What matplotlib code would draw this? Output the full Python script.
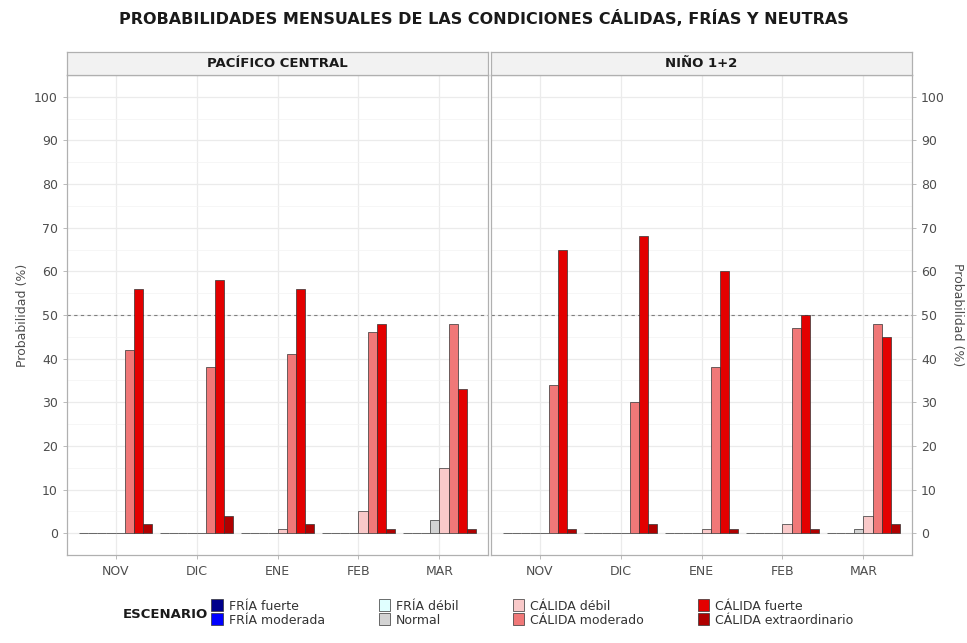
import matplotlib
matplotlib.use('Agg')
import matplotlib.pyplot as plt
import numpy as np
from matplotlib.patches import Patch
from matplotlib.ticker import MultipleLocator, FixedLocator

# ---------------- data ----------------
months = ['NOV', 'DIC', 'ENE', 'FEB', 'MAR']
regions = ['PACÍFICO CENTRAL', 'NIÑO 1+2']
scenarios = ['FRÍA fuerte', 'FRÍA moderada', 'FRÍA débil', 'Normal',
             'CÁLIDA débil', 'CÁLIDA moderado', 'CÁLIDA fuerte', 'CÁLIDA extraordinario']
scenario_colors = ['#00008B', '#0000FF', '#E0FFFF', '#D3D3D3',
                   '#F9C9C9', '#F07878', '#E30000', '#B00000']

# PACÍFICO CENTRAL
pc_fria_fuerte = [0, 0, 0, 0, 0]
pc_fria_moderada = [0, 0, 0, 0, 0]
pc_fria_debil = [0, 0, 0, 0, 0]
pc_normal = [0, 0, 0, 0, 3]
pc_calida_debil = [0, 0, 1, 5, 15]
pc_calida_moderado = [42, 38, 41, 46, 48]
pc_calida_fuerte = [56, 58, 56, 48, 33]
pc_calida_extra = [2, 4, 2, 1, 1]

# NIÑO 1+2
n12_fria_fuerte = [0, 0, 0, 0, 0]
n12_fria_moderada = [0, 0, 0, 0, 0]
n12_fria_debil = [0, 0, 0, 0, 0]
n12_normal = [0, 0, 0, 0, 1]
n12_calida_debil = [0, 0, 1, 2, 4]
n12_calida_moderado = [34, 30, 38, 47, 48]
n12_calida_fuerte = [65, 68, 60, 50, 45]
n12_calida_extra = [1, 2, 1, 1, 2]

panel_data = [
    [pc_fria_fuerte, pc_fria_moderada, pc_fria_debil, pc_normal,
     pc_calida_debil, pc_calida_moderado, pc_calida_fuerte, pc_calida_extra],
    [n12_fria_fuerte, n12_fria_moderada, n12_fria_debil, n12_normal,
     n12_calida_debil, n12_calida_moderado, n12_calida_fuerte, n12_calida_extra],
]

# ---------------- figure ----------------
W, H = 967, 643
fig = plt.figure(figsize=(W / 100, H / 100), dpi=100)


def rect(x0, y0, x1, y1):
    return [x0 / W, 1 - y1 / H, (x1 - x0) / W, (y1 - y0) / H]


panel_px = [(67, 488), (491, 912)]
top_px, bot_px, strip_top = 75, 555, 52
grey_txt = '#4D4D4D'
border = '#B0B0B0'

x = np.arange(1, len(months) + 1)
nb = len(scenarios)
bw = 0.9 / nb

for p, (x0, x1) in enumerate(panel_px):
    ax = fig.add_axes(rect(x0, top_px, x1, bot_px))
    ax.set_xlim(0.4, len(months) + 0.6)
    ax.set_ylim(-5, 105)
    ax.yaxis.set_major_locator(MultipleLocator(10))
    ax.yaxis.set_minor_locator(MultipleLocator(5))
    ax.xaxis.set_major_locator(FixedLocator(x))
    ax.set_xticklabels(months)
    ax.grid(which='major', color='#EBEBEB', lw=0.9, zorder=0)
    ax.grid(which='minor', axis='y', color='#F3F3F3', lw=0.5, zorder=0)
    ax.set_axisbelow(True)
    for s in ax.spines.values():
        s.set_color(border)
        s.set_linewidth(0.9)
    ax.tick_params(axis='both', which='major', colors=border, labelcolor=grey_txt,
                   labelsize=9, length=3, width=0.6)
    ax.tick_params(axis='y', which='minor', length=0)
    ax.tick_params(axis='x', pad=4)

    for i, (vals, col) in enumerate(zip(panel_data[p], scenario_colors)):
        ax.bar(x + (i - (nb - 1) / 2) * bw, vals, width=bw, color=col,
               edgecolor='#333333', linewidth=0.5, zorder=3)

    ax.axhline(50, color='#7F7F7F', lw=0.8, ls=(0, (3, 3)), zorder=2)

    if p == 0:
        ax.set_ylabel('Probabilidad (%)', fontsize=9, color=grey_txt, labelpad=4)
    else:
        ax.yaxis.tick_right()
        ax.yaxis.set_label_position('right')
        ax.set_ylabel('Probabilidad (%)', fontsize=9, color=grey_txt,
                      rotation=270, labelpad=14)
        ax.tick_params(axis='y', which='major', colors=border, labelcolor=grey_txt,
                       labelsize=9, length=3, width=0.6)

    # strip
    sax = fig.add_axes(rect(x0, strip_top, x1, top_px))
    sax.set_facecolor('#F2F2F2')
    sax.set_xticks([])
    sax.set_yticks([])
    for s in sax.spines.values():
        s.set_color(border)
        s.set_linewidth(0.9)
    sax.text(0.5, 0.5, regions[p], ha='center', va='center', fontsize=9.5,
             fontweight='bold', color='#1A1A1A', transform=sax.transAxes)

fig.text(0.5, 1 - 18 / H,
         'PROBABILIDADES MENSUALES DE LAS CONDICIONES CÁLIDAS, FRÍAS Y NEUTRAS',
         ha='center', va='center', fontsize=11.5, fontweight='bold', color='#1A1A1A')

handles = [Patch(facecolor=c, edgecolor='#333333', linewidth=0.5) for c in scenario_colors]
leg = fig.legend(handles, scenarios, ncol=4, loc='center left',
                 bbox_to_anchor=(200 / W, 1 - 613 / H), frameon=False,
                 fontsize=9, handlelength=0.9, handleheight=1.1,
                 handletextpad=0.5, columnspacing=4.3, labelspacing=0.05)
for t in leg.get_texts():
    t.set_color('#333333')
fig.text(165 / W, 1 - 614 / H, 'ESCENARIO', ha='center', va='center',
         fontsize=9.5, fontweight='bold', color='#1A1A1A')

fig.savefig('out.png', dpi=100)
